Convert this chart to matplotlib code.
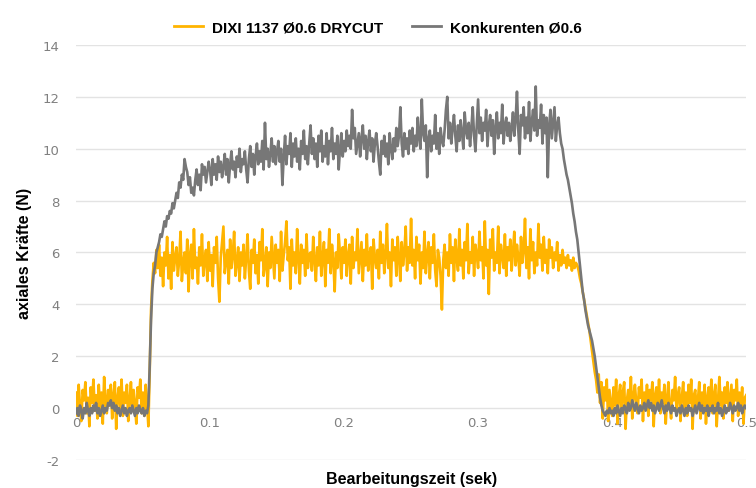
import numpy as np
import matplotlib.pyplot as plt

plt.rcParams['axes.unicode_minus'] = False

# time axis: 0 .. 0.5 s in 1 ms steps
t = np.arange(501) / 1000.0

# DIXI 1137 Ø0.6 DRYCUT (N), 25 values per row
dixi = [
    0.6, -0.3, 0.9, 0.1, -0.5, 0.7, 0.3, 1.0, -0.2, 0.4, -0.7, 0.8, 0.2, 1.1, -0.1, 0.5, -0.4, 0.9, 0.0, 0.6, -0.6, 1.2, 0.3, -0.2, 0.7,
    0.1, 0.9, -0.4, 0.5, 1.0, -0.8, 0.4, 0.8, 0.0, 1.1, -0.3, 0.6, 0.2, 0.9, -0.5, 0.3, 1.0, -0.1, 0.7, 0.2, -0.6, 0.8, 0.4, 1.1, -0.2,
    0.6, -0.3, 0.9, 0.2, -0.7, 1.4, 3.8, 4.9, 5.6, 5.2, 6.1, 5.4, 6.3, 5.1, 5.8, 4.7, 6.0, 5.5, 6.6, 5.0, 5.9, 4.6, 6.4, 5.3, 5.8,
    6.2, 5.1, 5.7, 6.8, 4.9, 5.6, 6.0, 5.2, 6.5, 4.5, 5.9, 6.3, 5.0, 6.9, 5.4, 5.8, 4.8, 6.2, 5.5, 6.7, 5.1, 5.7, 6.1, 4.9, 6.4,
    5.3, 5.9, 4.7, 6.2, 5.6, 6.6, 5.0, 4.1, 5.8, 6.4, 7.0, 5.2, 5.7, 6.1, 4.8, 6.5, 5.4, 5.9, 6.8, 5.1, 5.6, 6.2, 4.9, 6.0, 5.5,
    6.3, 5.0, 5.8, 6.7, 5.3, 4.6, 6.1, 5.6, 6.5, 5.2, 5.9, 4.8, 6.4, 5.7, 6.9, 5.1, 5.5, 6.2, 4.7, 6.0, 5.4, 6.6, 5.8, 5.0, 6.3,
    5.6, 6.1, 4.9, 6.8, 5.3, 5.9, 6.4, 7.2, 5.7, 6.2, 4.6, 6.5, 5.5, 6.0, 5.2, 6.9, 5.8, 4.8, 6.3, 5.6, 6.1, 5.1, 6.7, 5.4, 5.9,
    6.0, 5.3, 6.6, 5.7, 4.9, 6.2, 5.5, 6.8, 5.1, 5.8, 6.4, 4.7, 6.1, 5.6, 6.9, 5.2, 6.3, 5.7, 4.5, 6.0, 5.4, 6.7, 5.9, 5.0, 6.2,
    5.6, 6.5, 5.1, 5.9, 6.3, 4.8, 6.6, 5.4, 6.0, 5.7, 6.9, 5.2, 5.8, 6.4, 4.9, 6.1, 5.5, 6.7, 5.3, 5.9, 6.2, 4.6, 6.5, 5.8, 5.4,
    6.1, 5.0, 6.8, 5.6, 6.3, 5.2, 5.9, 7.1, 5.4, 6.0, 4.7, 6.5, 5.7, 6.2, 5.1, 6.6, 5.8, 4.9, 6.4, 5.5, 6.0, 7.0, 5.3, 6.2, 5.6,
    7.3, 5.5, 6.1, 5.0, 6.6, 5.7, 6.3, 4.8, 6.0, 5.4, 6.8, 5.2, 5.9, 6.4, 5.0, 6.2, 5.6, 6.7, 5.3, 4.7, 6.1, 5.8, 5.1, 3.8, 5.7,
    6.3, 5.4, 6.0, 5.1, 6.7, 5.6, 6.2, 4.9, 6.5, 5.8, 5.3, 6.9, 5.5, 6.1, 5.0, 6.4, 5.7, 7.1, 5.2, 6.0, 5.6, 6.6, 5.1, 6.3, 5.9,
    5.4, 6.8, 5.7, 6.2, 5.0, 7.2, 5.5, 6.1, 4.4, 6.5, 5.8, 6.9, 5.3, 6.0, 5.6, 7.0, 5.2, 6.3, 5.9, 5.4, 6.7, 5.1, 6.2, 5.7, 6.5,
    5.3, 6.0, 6.8, 5.5, 6.3, 5.8, 5.1, 6.6, 5.6, 6.1, 7.3, 5.4, 6.2, 5.0, 6.9, 5.7, 6.4, 5.2, 6.0, 5.5, 7.1, 5.8, 6.3, 5.3, 6.6,
    5.6, 6.1, 5.2, 6.5, 5.8, 6.2, 5.4, 6.0, 5.7, 6.4, 5.3, 5.9, 5.5, 6.1, 5.6, 5.8, 5.4, 5.9, 5.5, 5.7, 5.3, 5.8, 5.4, 5.6, 5.5,
    5.3, 5.0, 4.8, 4.5, 4.2, 3.9, 3.6, 3.3, 3.0, 2.6, 2.2, 1.8, 1.4, 1.1, 0.6, 1.3, 0.2, 1.0, -0.4, 0.8, 0.3, 1.1, -0.5, 0.7, 0.2,
    -0.3, 0.8, 0.1, 1.1, -0.6, 0.5, 0.9, -0.1, 0.6, 1.0, -0.8, 0.3, 0.7, 0.0, 1.2, -0.4, 0.5, 0.9, 0.2, -0.2, 0.8, 0.4, 1.1, -0.5, 0.6,
    0.1, 0.9, -0.3, 0.7, 0.3, 1.0, -0.7, 0.5, 0.8, 0.0, 1.1, -0.2, 0.6, 0.2, 0.9, -0.6, 0.4, 1.0, 0.1, -0.4, 0.7, 0.3, 1.2, -0.1, 0.5,
    0.8, -0.5, 0.4, 1.0, 0.0, 0.6, -0.3, 0.9, 0.2, 1.1, -0.8, 0.5, 0.7, -0.1, 0.3, 1.0, -0.4, 0.6, 0.1, 0.9, -0.6, 0.4, 0.8, 0.0, 1.1,
    -0.2, 0.5, 0.9, -0.7, 0.3, 1.2, 0.1, 0.6, -0.4, 0.8, 0.2, 1.0, -0.1, 0.4, 0.9, -0.5, 0.7, 0.3, 1.1, -0.3, 0.6, 0.0, 0.8, -0.6, 0.4,
    0.5,
]

# Konkurenten Ø0.6 (N)
konk = [
    -0.2, 0.0, -0.3, 0.1, -0.1, -0.4, 0.0, -0.2, 0.2, -0.1, -0.3, 0.0, -0.2, 0.1, -0.1, 0.2, -0.2, 0.0, -0.3, -0.1, 0.1, -0.2, 0.0, -0.1, 0.2,
    0.1, 0.3, 0.0, 0.2, -0.1, 0.1, -0.2, 0.0, -0.3, -0.1, 0.1, -0.2, 0.0, -0.3, -0.1, 0.0, -0.2, 0.1, -0.1, -0.3, 0.0, -0.2, 0.1, -0.1, -0.2,
    0.0, -0.3, -0.1, -0.2, 0.1, 1.6, 3.4, 4.6, 5.2, 5.5, 6.0, 6.2, 6.4, 6.7, 6.6, 6.9, 7.2, 7.0, 7.4, 7.3, 7.6, 7.5, 7.9, 7.7, 8.0,
    8.3, 8.1, 8.7, 8.5, 9.0, 8.8, 9.6, 9.3, 9.1, 8.6, 8.9, 8.3, 8.5, 8.2, 8.8, 9.2, 8.6, 9.0, 8.4, 9.4, 9.0, 9.3, 8.7, 9.1, 9.5,
    9.2, 8.6, 9.6, 9.0, 9.4, 8.8, 9.7, 9.1, 9.5, 8.9, 9.3, 9.8, 9.0, 9.6, 8.7, 9.4, 9.9, 9.2, 9.5, 8.9, 9.7, 9.3, 10.0, 9.1, 9.6,
    9.4, 9.9, 9.2, 8.7, 9.6, 10.1, 9.3, 9.8, 9.0, 9.7, 10.2, 9.4, 9.9, 9.5, 10.3, 9.2, 11.0, 9.6, 10.0, 9.3, 9.8, 10.4, 9.5, 10.1, 9.4,
    9.9, 10.3, 9.5, 10.0, 8.6, 9.7, 10.5, 9.4, 10.1, 9.8, 10.6, 9.3, 10.2, 9.7, 10.4, 9.5, 10.0, 9.2, 10.3, 9.8, 10.7, 9.6, 10.1, 9.4, 10.2,
    10.9, 9.8, 10.4, 9.6, 10.2, 9.3, 10.5, 9.9, 10.7, 9.5, 10.1, 9.7, 10.6, 9.4, 10.3, 9.9, 10.8, 9.6, 10.2, 9.8, 10.5, 9.2, 10.0, 10.6, 9.7,
    10.3, 9.9, 10.7, 10.1, 10.5, 10.0, 11.5, 10.4, 10.8, 9.8, 10.2, 10.6, 9.7, 10.4, 10.9, 10.0, 10.5, 9.6, 10.3, 10.7, 9.9, 10.4, 9.5, 10.2, 10.6,
    10.1, 9.5, 9.0, 10.3, 9.8, 10.5, 9.7, 10.2, 9.4, 10.6, 10.0, 9.6, 10.4, 9.9, 10.8, 10.1, 10.5, 11.6, 10.2, 9.7, 10.6, 10.0, 10.4, 9.8, 10.7,
    10.2, 10.8, 9.9, 10.5, 10.1, 11.2, 10.4, 10.0, 11.9, 10.6, 10.3, 10.9, 8.9, 10.4, 10.7, 9.9, 10.5, 10.2, 11.3, 10.0, 10.6, 9.8, 10.8, 10.3, 10.1,
    10.7, 11.5, 12.0, 10.4, 11.0, 10.2, 10.8, 11.3, 10.5, 9.9, 10.9, 10.3, 11.1, 10.6, 10.0, 11.4, 10.7, 10.4, 11.0, 10.1, 10.8, 11.6, 10.5, 9.9, 10.9,
    11.9, 10.6, 11.2, 10.3, 11.0, 10.7, 11.5, 10.1, 10.9, 11.3, 10.5, 11.1, 9.8, 10.8, 11.4, 10.4, 11.0, 10.6, 11.7, 10.2, 10.9, 11.2, 10.5, 11.0, 10.3,
    10.8, 11.4, 10.5, 11.1, 12.2, 10.7, 9.8, 11.3, 10.9, 11.6, 10.4, 11.2, 10.6, 11.8, 10.3, 11.0, 11.5, 10.7, 12.4, 10.5, 11.1, 10.8, 11.7, 10.2, 11.3,
    10.6, 11.2, 8.9, 10.9, 11.5, 10.4, 11.0, 11.6, 10.3, 10.9, 11.2, 10.6, 10.2, 10.0, 9.6, 9.3, 9.0, 8.8, 8.5, 8.2, 7.9, 7.5, 7.2, 6.8, 6.5,
    6.0, 5.5, 5.0, 4.5, 4.2, 3.8, 3.5, 3.2, 3.0, 2.8, 2.6, 2.3, 2.0, 1.6, 1.2, 0.8, 0.4, 0.1, -0.1, -0.2, -0.3, -0.1, -0.2, 0.0, -0.2,
    -0.1, -0.3, 0.0, -0.2, 0.1, -0.1, -0.3, 0.0, -0.2, 0.1, 0.0, -0.2, 0.2, -0.1, 0.0, 0.3, 0.1, -0.1, 0.2, 0.0, -0.2, 0.1, -0.1, 0.0, 0.2,
    -0.1, 0.1, 0.3, 0.0, 0.2, -0.1, 0.1, -0.2, 0.0, 0.2, -0.1, 0.1, 0.3, 0.0, -0.2, 0.1, -0.1, 0.2, 0.0, -0.2, 0.1, -0.1, 0.0, -0.3, -0.1,
    0.0, -0.2, 0.1, -0.1, -0.3, 0.0, -0.2, 0.1, -0.1, 0.0, -0.3, -0.1, 0.1, -0.2, 0.0, 0.2, -0.1, 0.1, -0.2, 0.0, -0.1, 0.1, -0.3, 0.0, -0.1,
    0.1, -0.2, 0.0, -0.1, 0.2, -0.2, 0.0, -0.3, -0.1, 0.1, -0.2, 0.0, -0.1, 0.2, 0.0, -0.2, 0.1, -0.1, 0.0, 0.2, -0.1, 0.1, -0.2, 0.0, 0.1,
    0.0,
]

x_ticks = [0, 0.1, 0.2, 0.3, 0.4, 0.5]
x_labels = ['0', '0.1', '0.2', '0.3', '0.4', '0.5']
y_ticks = [-2, 0, 2, 4, 6, 8, 10, 12, 14]

bold_font = ['Liberation Sans', 'DejaVu Sans']
tick_color = '#808080'

fig = plt.figure(figsize=(7.56, 4.89), dpi=100)
ax = fig.add_axes([0.1005, 0.0573, 0.8865, 0.8487])

ax.plot(t, dixi, color='#FFB400', lw=1.9, label='DIXI 1137 Ø0.6 DRYCUT')
ax.plot(t, konk, color='#777777', lw=1.9, label='Konkurenten Ø0.6')

ax.set_xlim(0, 0.5)
ax.set_ylim(-2, 14)
ax.set_yticks(y_ticks)
ax.set_xticks(x_ticks)
ax.set_xticklabels(x_labels)
ax.yaxis.grid(True, color='#e3e3e3', lw=1)
ax.set_axisbelow(True)
for s in ax.spines.values():
    s.set_visible(False)
ax.spines['bottom'].set_position(('data', 0))
ax.tick_params(axis='both', length=0, colors=tick_color, labelsize=9.5)
ax.tick_params(axis='y', pad=12)
ax.tick_params(axis='x', pad=6)

ax.set_ylabel('axiales Kräfte (N)', family=bold_font, fontweight='bold',
              fontsize=11.5, color='black')
ax.yaxis.set_label_coords(-0.066, 0.5)
ax.set_xlabel('Bearbeitungszeit (sek)', family=bold_font, fontweight='bold',
              fontsize=11.5, color='black')
ax.xaxis.set_label_coords(0.5, -0.026)

leg = fig.legend(loc='upper center', bbox_to_anchor=(0.5, 0.985), ncol=2, frameon=False,
                 prop={'family': bold_font, 'weight': 'bold', 'size': 11},
                 handlelength=1.9, columnspacing=1.9, handletextpad=0.6)
for h in leg.get_lines():
    h.set_linewidth(2)

fig.savefig('out.png', dpi=100)
